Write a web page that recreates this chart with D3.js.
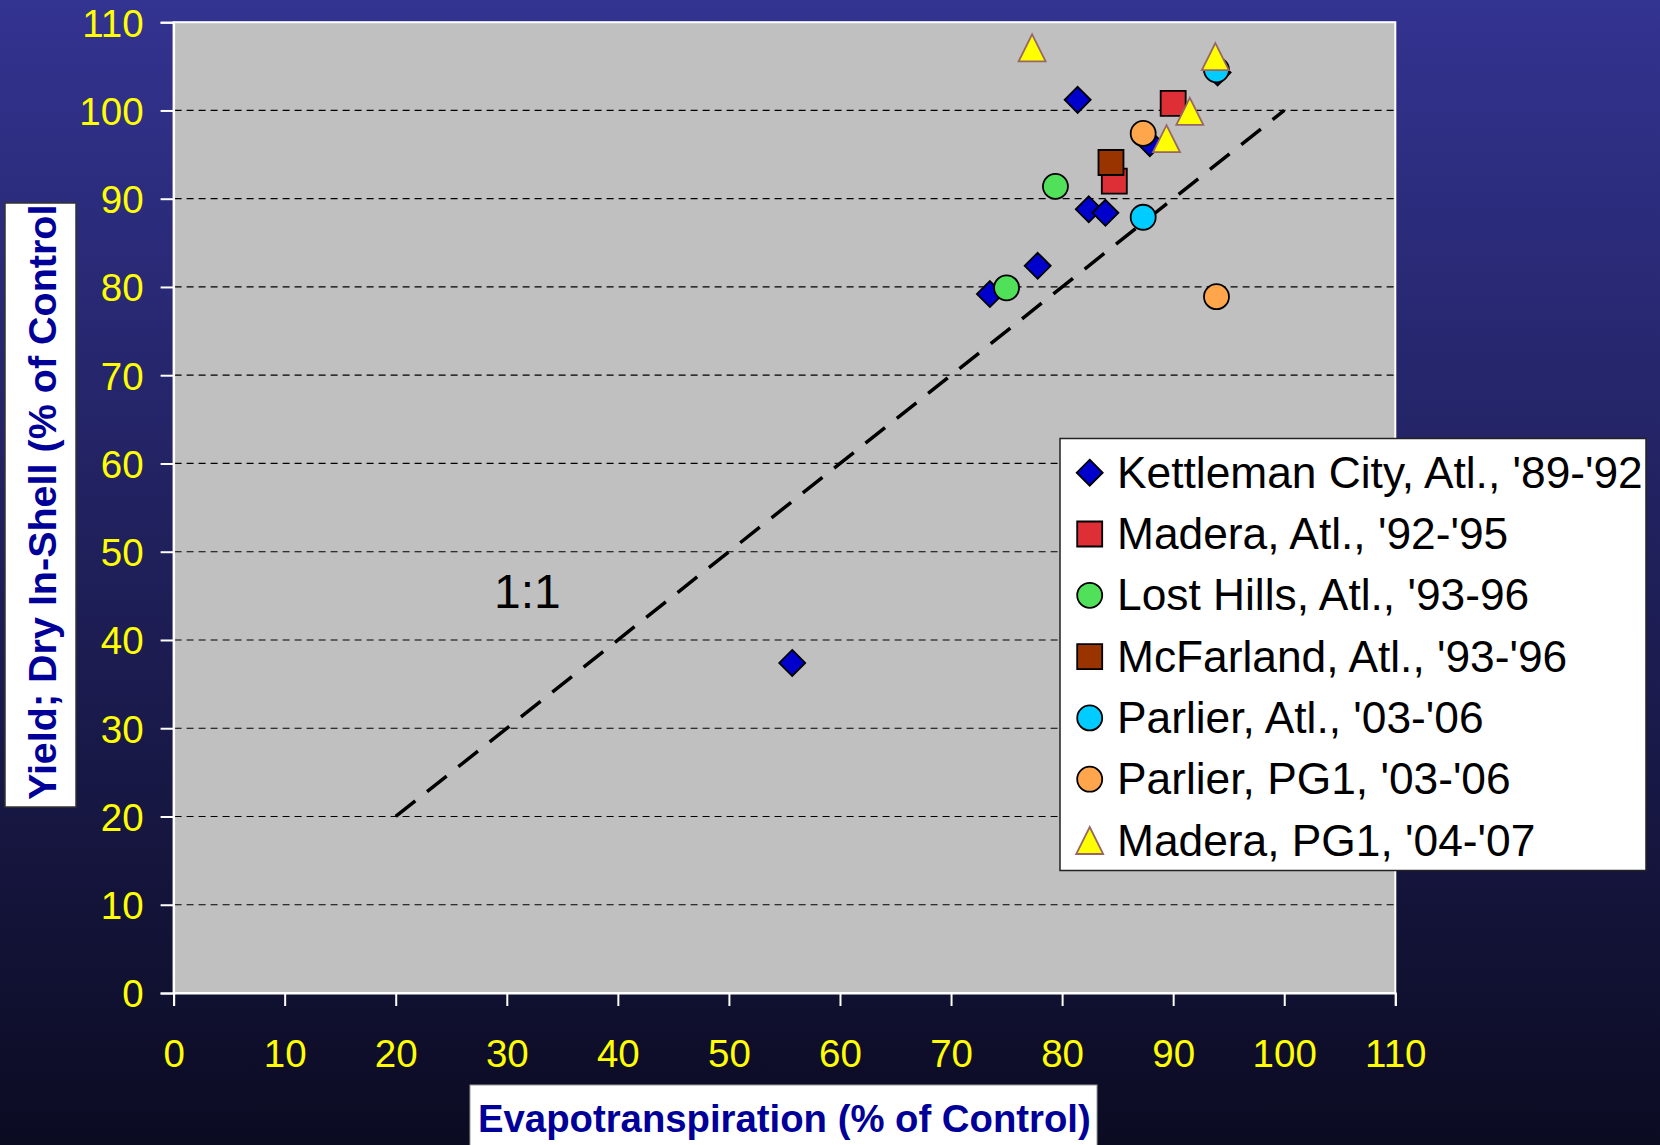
<!DOCTYPE html>
<html>
<head>
<meta charset="utf-8">
<script src="https://cdn.jsdelivr.net/npm/d3@7"></script>
<style>
  html, body { margin: 0; padding: 0; background: #0b0b22; }
  svg { display: block; }
</style>
</head>
<body>
<script>
// ---- data: [evapotranspiration %, yield %] ----
const kettleman  = [[81.4,101.2],[82.4,88.8],[83.9,88.4],[77.8,82.4],[73.5,79.2],[55.7,37.4],[87.9,96.3],[94.0,104.3]];
const maderaAtl  = [[90.0,100.8],[84.7,92.0]];
const lostHills  = [[79.4,91.4],[75.0,79.9]];
const mcfarland  = [[84.4,94.1]];
const parlierAtl = [[87.3,87.9],[93.9,104.6]];
const parlierPG1 = [[87.3,97.4],[93.9,78.9]];
const maderaPG1  = [[77.3,107.1],[93.8,106.1],[91.5,99.9],[89.4,96.8]];

const seriesNames = [
  "Kettleman City, Atl., '89-'92",
  "Madera, Atl., '92-'95",
  "Lost Hills, Atl., '93-96",
  "McFarland, Atl., '93-'96",
  "Parlier, Atl., '03-'06",
  "Parlier, PG1, '03-'06",
  "Madera, PG1, '04-'07"
];
const seriesData = [kettleman, maderaAtl, lostHills, mcfarland, parlierAtl, parlierPG1, maderaPG1];

const xTicks = [0,10,20,30,40,50,60,70,80,90,100,110];
const yTicks = [0,10,20,30,40,50,60,70,80,90,100,110];
const gridValues = [10,20,30,40,50,60,70,80,90,100];
const oneToOne = [[20,20],[100,100]];

// ---- layout ----
const W = 1660, H = 1145;
const plot = { left: 173.6, right: 1395.3, top: 22.2, bottom: 993 };

const svg = d3.select("body").append("svg").attr("width", W).attr("height", H);

const defs = svg.append("defs");
const grad = defs.append("linearGradient").attr("id", "bg").attr("x1", 0).attr("y1", 0).attr("x2", 0).attr("y2", 1);
grad.append("stop").attr("offset", "0%").attr("stop-color", "#333391");
grad.append("stop").attr("offset", "100%").attr("stop-color", "#0b0b22");
svg.append("rect").attr("width", W).attr("height", H).attr("fill", "url(#bg)");

const x = d3.scaleLinear().domain([0, 110]).range([plot.left, plot.right]);
const y = d3.scaleLinear().domain([0, 110]).range([plot.bottom, plot.top]);

// plot area
svg.append("rect")
  .attr("x", plot.left).attr("y", plot.top)
  .attr("width", plot.right - plot.left).attr("height", plot.bottom - plot.top)
  .attr("fill", "#c0c0c0").attr("stroke", "#ffffff").attr("stroke-width", 2);

// horizontal dashed gridlines
svg.append("g").selectAll("line").data(gridValues).join("line")
  .attr("x1", plot.left + 1).attr("x2", plot.right - 1)
  .attr("y1", d => y(d)).attr("y2", d => y(d))
  .attr("stroke", "#000").attr("stroke-width", 1.2).attr("stroke-dasharray", "7,5");

// axes
const xAxis = svg.append("g").attr("transform", `translate(0,${plot.bottom})`)
  .call(d3.axisBottom(x).tickValues(xTicks).tickSize(13).tickPadding(34).tickFormat(d3.format("d")));
const yAxis = svg.append("g").attr("transform", `translate(${plot.left},0)`)
  .call(d3.axisLeft(y).tickValues(yTicks).tickSize(13).tickPadding(17).tickFormat(d3.format("d")));
[xAxis, yAxis].forEach(a => {
  a.select(".domain").attr("stroke", "#fff").attr("stroke-width", 2);
  a.selectAll(".tick line").attr("stroke", "#fff").attr("stroke-width", 2);
  a.selectAll(".tick text")
    .attr("fill", "#ffff00")
    .attr("font-family", "Liberation Sans, Arial, sans-serif")
    .attr("font-size", 38.5);
});
xAxis.selectAll(".tick text").attr("dy", "0.71em");
yAxis.selectAll(".tick text").attr("dy", "0.36em");

// 1:1 reference line
svg.append("path")
  .attr("d", d3.line().x(d => x(d[0])).y(d => y(d[1]))(oneToOne))
  .attr("stroke", "#000").attr("stroke-width", 3.5).attr("fill", "none")
  .attr("stroke-dasharray", "25,15");
svg.append("text").attr("x", 494).attr("y", 608)
  .attr("font-family", "Liberation Sans, Arial, sans-serif").attr("font-size", 48)
  .attr("fill", "#000").text("1:1");

// marker shapes
const diamondType = { draw(ctx, size) { const r = Math.sqrt(size / 2); ctx.moveTo(0, -r); ctx.lineTo(r, 0); ctx.lineTo(0, r); ctx.lineTo(-r, 0); ctx.closePath(); } };
const squareType  = { draw(ctx, size) { const s = Math.sqrt(size) / 2; ctx.rect(-s, -s, 2 * s, 2 * s); } };
const circleType  = { draw(ctx, size) { const r = Math.sqrt(size / Math.PI); ctx.moveTo(r, 0); ctx.arc(0, 0, r, 0, 2 * Math.PI); } };
const triangleType = { draw(ctx, size) { const h = Math.sqrt(size); ctx.moveTo(0, -h / 2); ctx.lineTo(h / 2, h / 2); ctx.lineTo(-h / 2, h / 2); ctx.closePath(); } };

const styles = [
  { type: diamondType,  size: 2 * 13 * 13,           fill: "#0000cc", stroke: "#000" },
  { type: squareType,   size: 25 * 25,               fill: "#de2e36", stroke: "#000" },
  { type: circleType,   size: Math.PI * 12.5 * 12.5, fill: "#50e05a", stroke: "#000" },
  { type: squareType,   size: 25 * 25,               fill: "#993300", stroke: "#000" },
  { type: circleType,   size: Math.PI * 12.5 * 12.5, fill: "#00ccff", stroke: "#000" },
  { type: circleType,   size: Math.PI * 12.5 * 12.5, fill: "#ffa64d", stroke: "#000" },
  { type: triangleType, size: 27 * 27,               fill: "#ffff00", stroke: "#996666" }
];

const pts = svg.append("g");
seriesData.forEach((data, i) => {
  const st = styles[i];
  pts.append("g").selectAll("path").data(data).join("path")
    .attr("transform", d => `translate(${x(d[0])},${y(d[1])})`)
    .attr("d", d3.symbol().type(st.type).size(st.size))
    .attr("fill", st.fill).attr("stroke", st.stroke).attr("stroke-width", 1.8);
});

// legend
const lg = svg.append("g");
lg.append("rect").attr("x", 1060).attr("y", 438.5).attr("width", 586).attr("height", 432)
  .attr("fill", "#fff").attr("stroke", "#222").attr("stroke-width", 1.5);
seriesNames.forEach((name, i) => {
  const st = styles[i];
  const cy = 472.7 + i * 61.3;
  lg.append("path").attr("transform", `translate(1089.7,${cy})`)
    .attr("d", d3.symbol().type(st.type).size(st.size))
    .attr("fill", st.fill).attr("stroke", st.stroke).attr("stroke-width", 1.8);
  lg.append("text").attr("x", 1117).attr("y", cy + 15)
    .attr("font-family", "Liberation Sans, Arial, sans-serif").attr("font-size", 44.3)
    .attr("fill", "#000").text(name);
});

// axis titles
svg.append("rect").attr("x", 470).attr("y", 1085).attr("width", 627).attr("height", 70)
  .attr("fill", "#fff").attr("stroke", "#999").attr("stroke-width", 1);
svg.append("text").attr("x", 478).attr("y", 1131.5)
  .attr("font-family", "Liberation Sans, Arial, sans-serif").attr("font-weight", "bold")
  .attr("font-size", 38.3).attr("fill", "#000099")
  .text("Evapotranspiration (% of Control)");

svg.append("rect").attr("x", 5).attr("y", 203).attr("width", 71).attr("height", 604)
  .attr("fill", "#fff").attr("stroke", "#333").attr("stroke-width", 1.5);
svg.append("text").attr("transform", "translate(56,800) rotate(-90)")
  .attr("font-family", "Liberation Sans, Arial, sans-serif").attr("font-weight", "bold")
  .attr("font-size", 39.5).attr("fill", "#000099")
  .text("Yield; Dry In-Shell (% of Control");
</script>
</body>
</html>
